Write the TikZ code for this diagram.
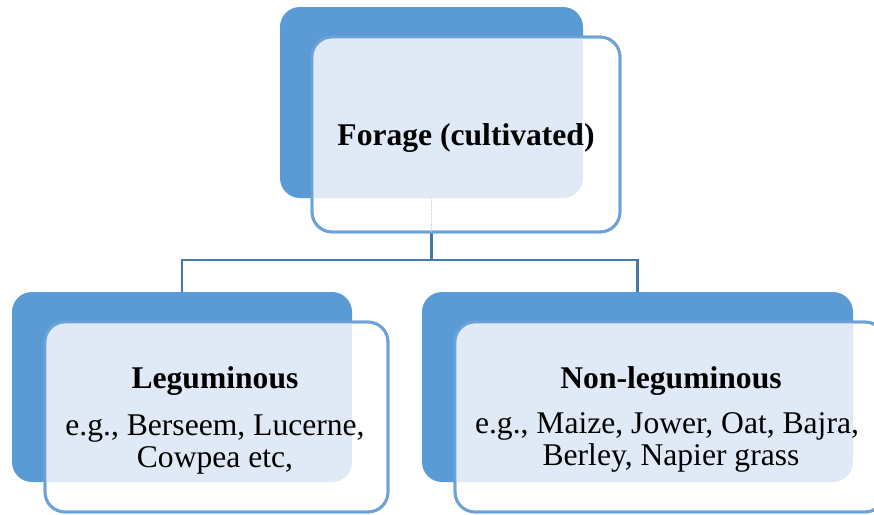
\documentclass[tikz,border=0pt]{standalone}
\usepackage{fontspec}
\setmainfont{Liberation Serif}
\definecolor{backblue}{HTML}{5B9BD5}
\definecolor{linkblue}{HTML}{4678AC}
\definecolor{frontline}{HTML}{6CA2D8}
\definecolor{patblue}{HTML}{E0EAF6}
\tikzset{
  backbox/.style={rectangle, fill=backblue, draw=none, rounded corners=20pt, inner sep=0pt, outer sep=0pt},
  frontbox/.style={rectangle, fill=white, draw=frontline, line width=2.8pt, rounded corners=20pt, inner sep=0pt, outer sep=0pt},
  link/.style={draw=linkblue, line width=2.8pt},
  faint/.style={draw=linkblue!35, line width=1.2pt, densely dotted},
  txt/.style={inner sep=0pt, anchor=base, font=\fontsize{31.6}{32}\selectfont},
  btxt/.style={txt, font=\fontsize{31.6}{32}\selectfont\bfseries},
}
\begin{document}
\begin{tikzpicture}[x=1pt,y=-1pt]
\useasboundingbox (0,0) rectangle (874,514);
% back boxes
\node[backbox, minimum width=303pt, minimum height=191pt] (tb) at (431.5,102.5) {};
\node[backbox, minimum width=340pt, minimum height=190pt] (lb) at (182,387) {};
\node[backbox, minimum width=431pt, minimum height=190pt] (rb) at (637.5,387) {};
% connectors
\coordinate (tj) at (tb.south |- 0,232);
\draw[link] (tj) -- (tb.south |- 0,260) -| (lb.north);
\draw[link] (tj) -- (tb.south |- 0,260) -| (rb.north);
% front boxes
\foreach \f/\b/\x/\y/\w/\h in {tf/tb/466/134.5/308/195, lf/lb/216.5/417/343/190, rf/rb/670/417/430/190}{
  \node[frontbox, minimum width=\w pt, minimum height=\h pt] (\f) at (\x,\y) {};
  \begin{scope}
    \clip[rounded corners=20pt] (\f.south west) rectangle (\f.north east);
    \fill[patblue, rounded corners=20pt] (\b.south west) rectangle (\b.north east);
  \end{scope}
  \draw[draw=frontline, line width=2.8pt, rounded corners=20pt] (\f.south west) rectangle (\f.north east);
}
\draw[faint] (tb.south) -- (tj);
% texts
\node[btxt] (t1) at (466,145) {Forage (cultivated)};
\node[btxt] (l1) at (215,388) {Leguminous};
\node[txt] (l2) at (215,435) {e.g., Berseem, Lucerne,};
\node[txt] (l3) at (215,467) {Cowpea etc,};
\node[btxt] (r1) at (671,388) {Non-leguminous};
\node[txt] (r2) at (667,433) {e.g., Maize, Jower, Oat, Bajra,};
\node[txt] (r3) at (671,465) {Berley, Napier grass};
\end{tikzpicture}
\end{document}
